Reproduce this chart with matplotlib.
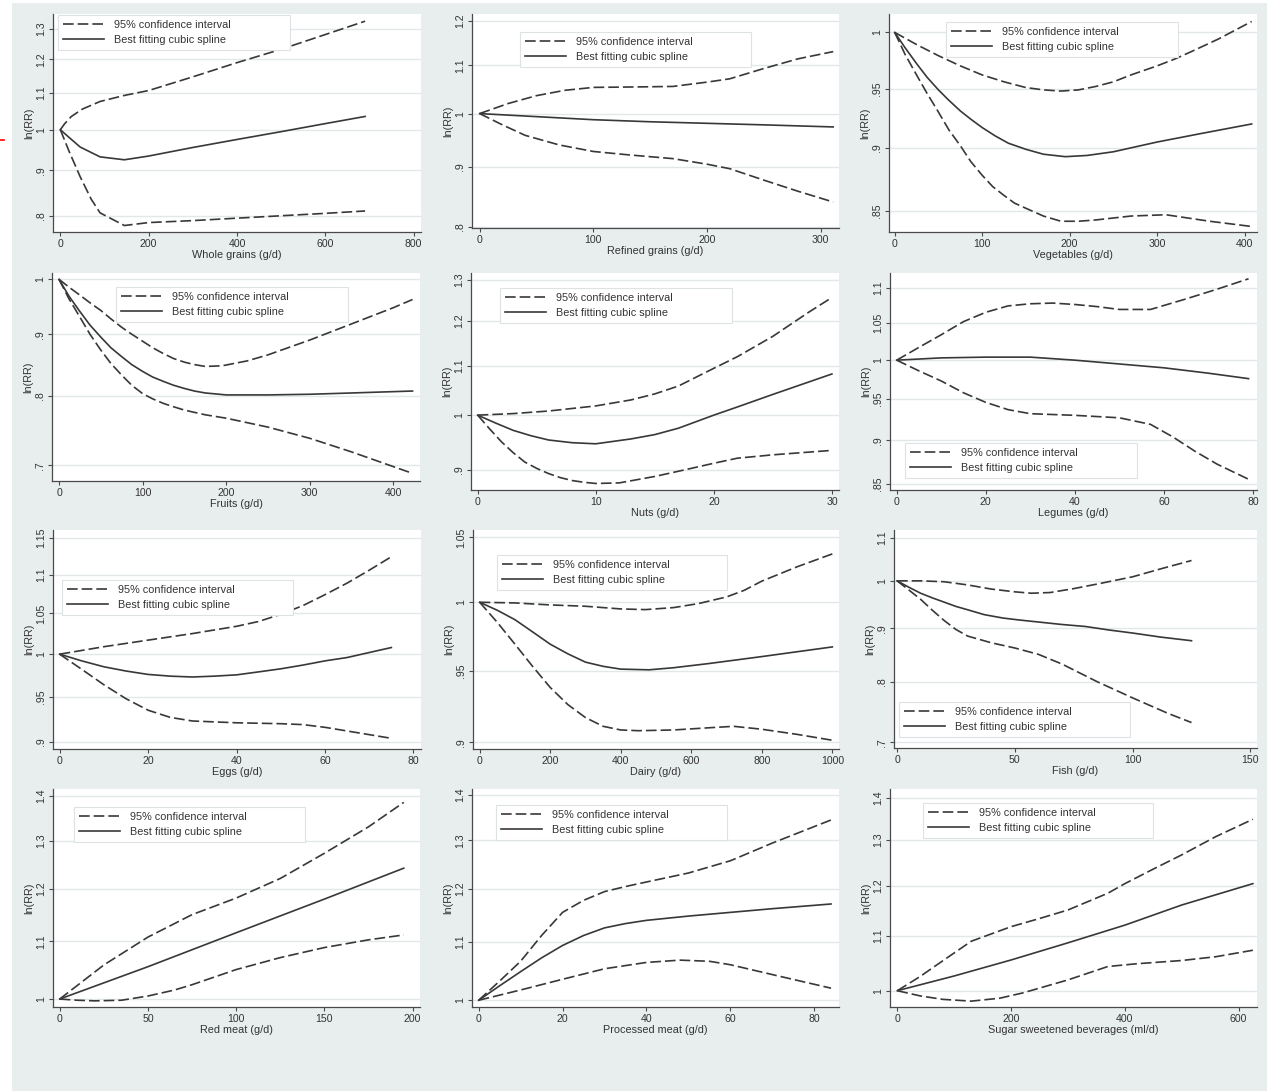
import numpy as np
import matplotlib.pyplot as plt
from matplotlib.patches import Rectangle
from matplotlib.lines import Line2D
from matplotlib.ticker import FixedLocator, FuncFormatter, NullLocator

plt.rcParams['font.family'] = ['Liberation Sans', 'DejaVu Sans']

# ---- data: [x values], [RR values] ----
wg_hi = [[0, 10, 25, 50, 90, 145, 200, 300, 400, 500, 600, 690],
         [1.0, 1.016, 1.035, 1.055, 1.076, 1.093, 1.107, 1.147, 1.19, 1.232, 1.28, 1.325]]
wg_fit = [[0, 20, 45, 90, 145, 200, 300, 400, 500, 600, 690],
          [1.0, 0.98, 0.956, 0.932, 0.925, 0.934, 0.955, 0.975, 0.995, 1.016, 1.035]]
wg_lo = [[0, 20, 45, 70, 90, 145, 200, 300, 400, 500, 600, 690],
         [1.0, 0.945, 0.885, 0.835, 0.806, 0.78, 0.786, 0.79, 0.795, 0.80, 0.805, 0.81]]

rg_hi = [[0, 25, 50, 75, 100, 140, 170, 200, 220, 250, 280, 311],
         [1.0, 1.02, 1.036, 1.047, 1.053, 1.054, 1.055, 1.064, 1.071, 1.093, 1.114, 1.13]]
rg_fit = [[0, 50, 100, 150, 200, 250, 311],
          [1.0, 0.994, 0.988, 0.984, 0.981, 0.978, 0.974]]
rg_lo = [[0, 20, 40, 70, 100, 130, 170, 200, 220, 250, 280, 311],
         [1.0, 0.978, 0.958, 0.94, 0.928, 0.922, 0.915, 0.905, 0.897, 0.877, 0.858, 0.84]]

veg_hi = [[0, 25, 50, 75, 100, 125, 150, 170, 190, 210, 230, 250, 270, 300, 320, 340, 370, 408],
          [1.0, 0.989, 0.979, 0.970, 0.962, 0.956, 0.951, 0.949, 0.948, 0.949, 0.952, 0.956,
           0.962, 0.970, 0.976, 0.983, 0.994, 1.010]]
veg_fit = [[0, 12, 25, 37, 50, 62, 75, 87, 100, 115, 130, 150, 170, 195, 220, 250, 300, 350, 408],
           [1.0, 0.986, 0.972, 0.96, 0.949, 0.94, 0.931, 0.924, 0.917, 0.910, 0.904, 0.899,
            0.895, 0.893, 0.894, 0.897, 0.905, 0.912, 0.92]]
veg_lo = [[0, 12, 25, 37, 50, 62, 75, 87, 100, 112, 125, 137, 150, 170, 190, 210, 230, 270, 310, 360, 408],
          [1.0, 0.98, 0.962, 0.946, 0.93, 0.915, 0.902, 0.889, 0.878, 0.869, 0.862, 0.856,
           0.852, 0.846, 0.842, 0.842, 0.843, 0.846, 0.847, 0.842, 0.838]]

fr_hi = [[0, 12, 25, 37, 50, 62, 75, 87, 100, 112, 125, 137, 150, 162, 175, 195, 225, 250, 300, 350, 400, 423],
         [1.0, 0.985, 0.97, 0.956, 0.942, 0.927, 0.912, 0.900, 0.888, 0.877, 0.867, 0.859,
          0.853, 0.849, 0.846, 0.847, 0.855, 0.865, 0.89, 0.918, 0.947, 0.962]]
fr_fit = [[0, 12, 25, 37, 50, 62, 75, 87, 100, 112, 125, 137, 150, 162, 175, 200, 250, 300, 350, 423],
          [1.0, 0.968, 0.94, 0.916, 0.895, 0.877, 0.862, 0.849, 0.838, 0.829, 0.822, 0.816,
           0.811, 0.807, 0.804, 0.801, 0.801, 0.802, 0.804, 0.807]]
fr_lo = [[0, 12, 25, 37, 50, 62, 75, 87, 100, 112, 125, 137, 150, 175, 200, 250, 300, 350, 423],
         [1.0, 0.963, 0.93, 0.9, 0.873, 0.851, 0.832, 0.816, 0.803, 0.795, 0.788, 0.783,
          0.778, 0.771, 0.766, 0.753, 0.737, 0.718, 0.689]]

nut_hi = [[0, 3, 6, 10, 13, 15, 17, 20, 22, 25, 28, 30],
          [1.0, 1.003, 1.008, 1.018, 1.03, 1.042, 1.058, 1.095, 1.12, 1.165, 1.22, 1.256]]
nut_fit = [[0, 1.5, 3, 4.5, 6, 8, 10, 13, 15, 17, 20, 22, 25, 30],
           [1.0, 0.985, 0.971, 0.961, 0.953, 0.948, 0.946, 0.955, 0.963, 0.975, 1.0, 1.016, 1.041, 1.083]]
nut_lo = [[0, 1, 2, 3, 4, 5, 6, 7, 8, 9, 10, 12, 15, 17, 20, 22, 25, 30],
          [1.0, 0.974, 0.95, 0.93, 0.913, 0.902, 0.893, 0.886, 0.881, 0.878, 0.876, 0.877,
           0.888, 0.897, 0.911, 0.92, 0.926, 0.934]]

leg_hi = [[0, 5, 10, 15, 20, 25, 30, 35, 40, 45, 50, 57, 65, 72, 79],
          [1.0, 1.017, 1.034, 1.052, 1.065, 1.074, 1.077, 1.078, 1.076, 1.073, 1.069, 1.069, 1.084, 1.098, 1.113]]
leg_fit = [[0, 10, 20, 30, 40, 50, 60, 70, 79],
           [1.0, 1.003, 1.004, 1.004, 1.0, 0.995, 0.99, 0.983, 0.976]]
leg_lo = [[0, 5, 10, 15, 20, 25, 30, 40, 50, 57, 62, 67, 72, 79],
          [1.0, 0.986, 0.973, 0.958, 0.946, 0.937, 0.932, 0.93, 0.927, 0.919, 0.904, 0.887, 0.872, 0.855]]

egg_hi = [[0, 10, 20, 30, 40, 45, 50, 55, 60, 65, 70, 75],
          [1.0, 1.009, 1.017, 1.025, 1.034, 1.04, 1.049, 1.06, 1.074, 1.089, 1.106, 1.124]]
egg_fit = [[0, 5, 10, 15, 20, 25, 30, 35, 40, 45, 50, 55, 60, 65, 70, 75],
           [1.0, 0.992, 0.985, 0.98, 0.976, 0.974, 0.973, 0.974, 0.9755, 0.979, 0.9826, 0.987,
            0.992, 0.996, 1.002, 1.008]]
egg_lo = [[0, 5, 10, 15, 20, 25, 30, 40, 50, 55, 60, 65, 70, 75],
          [1.0, 0.982, 0.964, 0.948, 0.935, 0.927, 0.923, 0.921, 0.92, 0.919, 0.916, 0.912, 0.908, 0.904]]

dai_hi = [[0, 100, 200, 300, 400, 470, 550, 620, 700, 750, 800, 900, 1000],
          [1.0, 0.9995, 0.998, 0.997, 0.995, 0.9945, 0.996, 0.999, 1.004, 1.009, 1.016, 1.027, 1.037]]
dai_fit = [[0, 50, 100, 150, 200, 250, 300, 350, 400, 480, 550, 650, 800, 900, 1000],
           [1.0, 0.994, 0.987, 0.978, 0.969, 0.962, 0.956, 0.953, 0.951, 0.9505, 0.952, 0.955, 0.96, 0.9635, 0.967]]
dai_lo = [[0, 50, 100, 150, 200, 250, 300, 350, 400, 450, 550, 650, 720, 800, 900, 1000],
          [1.0, 0.985, 0.969, 0.953, 0.938, 0.926, 0.917, 0.911, 0.9085, 0.908, 0.9085, 0.910, 0.911, 0.909, 0.9055, 0.9015]]

fish_hi = [[0, 10, 20, 30, 40, 50, 57, 65, 75, 85, 100, 112, 125],
           [1.0, 1.0, 0.998, 0.991, 0.982, 0.976, 0.973, 0.9745, 0.983, 0.993, 1.009, 1.027, 1.046]]
fish_fit = [[0, 5, 10, 15, 20, 25, 30, 37, 45, 52, 60, 70, 80, 90, 100, 112, 125],
            [1.0, 0.986, 0.973, 0.963, 0.954, 0.945, 0.938, 0.928, 0.921, 0.917, 0.913, 0.908,
             0.904, 0.897, 0.891, 0.883, 0.876]]
fish_lo = [[0, 5, 10, 15, 20, 25, 30, 40, 50, 60, 70, 85, 100, 115, 125],
           [1.0, 0.98, 0.96, 0.937, 0.916, 0.898, 0.885, 0.872, 0.862, 0.85, 0.832, 0.80, 0.772, 0.746, 0.731]]

rm_hi = [[0, 25, 50, 75, 100, 125, 150, 175, 195],
         [1.0, 1.058, 1.108, 1.15, 1.182, 1.221, 1.273, 1.33, 1.385]]
rm_fit = [[0, 50, 100, 150, 195],
          [1.0, 1.055, 1.116, 1.18, 1.242]]
rm_lo = [[0, 10, 20, 35, 50, 65, 75, 100, 125, 150, 175, 195],
         [1.0, 0.998, 0.997, 0.998, 1.005, 1.015, 1.024, 1.05, 1.071, 1.089, 1.103, 1.112]]

pm_hi = [[0, 5, 10, 15, 20, 25, 30, 35, 40, 50, 60, 70, 84],
         [1.0, 1.032, 1.066, 1.112, 1.155, 1.178, 1.195, 1.205, 1.214, 1.232, 1.257, 1.294, 1.344]]
pm_fit = [[0, 5, 10, 15, 20, 25, 30, 35, 40, 50, 60, 70, 84],
          [1.0, 1.024, 1.048, 1.072, 1.094, 1.112, 1.126, 1.134, 1.14, 1.148, 1.155, 1.162, 1.171]]
pm_lo = [[0, 10, 20, 30, 40, 48, 55, 60, 70, 84],
         [1.0, 1.017, 1.035, 1.053, 1.064, 1.068, 1.066, 1.06, 1.043, 1.02]]

ssb_hi = [[0, 40, 75, 130, 200, 250, 300, 370, 400, 450, 500, 560, 625],
          [1.0, 1.025, 1.05, 1.09, 1.118, 1.134, 1.151, 1.185, 1.205, 1.236, 1.267, 1.308, 1.348]]
ssb_fit = [[0, 100, 200, 300, 400, 500, 625],
           [1.0, 1.026, 1.055, 1.087, 1.121, 1.161, 1.205]]
ssb_lo = [[0, 40, 80, 130, 180, 220, 300, 370, 420, 500, 560, 625],
          [1.0, 0.991, 0.985, 0.982, 0.987, 0.996, 1.019, 1.043, 1.048, 1.054, 1.061, 1.073]]

xlabels = ['Whole grains (g/d)', 'Refined grains (g/d)', 'Vegetables (g/d)',
           'Fruits (g/d)', 'Nuts (g/d)', 'Legumes (g/d)',
           'Eggs (g/d)', 'Dairy (g/d)', 'Fish (g/d)',
           'Red meat (g/d)', 'Processed meat (g/d)', 'Sugar sweetened beverages (ml/d)']

xticks = [[0, 200, 400, 600, 800], [0, 100, 200, 300], [0, 100, 200, 300, 400],
          [0, 100, 200, 300, 400], [0, 10, 20, 30], [0, 20, 40, 60, 80],
          [0, 20, 40, 60, 80], [0, 200, 400, 600, 800, 1000], [0, 50, 100, 150],
          [0, 50, 100, 150, 200], [0, 20, 40, 60, 80], [0, 200, 400, 600]]

yticks = [[.8, .9, 1, 1.1, 1.2, 1.3], [.8, .9, 1, 1.1, 1.2], [.85, .9, .95, 1],
          [.7, .8, .9, 1], [.9, 1, 1.1, 1.2, 1.3], [.85, .9, .95, 1, 1.05, 1.1],
          [.9, .95, 1, 1.05, 1.1, 1.15], [.9, .95, 1, 1.05], [.7, .8, .9, 1, 1.1],
          [1, 1.1, 1.2, 1.3, 1.4], [1, 1.1, 1.2, 1.3, 1.4], [1, 1.1, 1.2, 1.3, 1.4]]

curves = [(wg_hi, wg_fit, wg_lo), (rg_hi, rg_fit, rg_lo), (veg_hi, veg_fit, veg_lo),
          (fr_hi, fr_fit, fr_lo), (nut_hi, nut_fit, nut_lo), (leg_hi, leg_fit, leg_lo),
          (egg_hi, egg_fit, egg_lo), (dai_hi, dai_fit, dai_lo), (fish_hi, fish_fit, fish_lo),
          (rm_hi, rm_fit, rm_lo), (pm_hi, pm_fit, pm_lo), (ssb_hi, ssb_fit, ssb_lo)]

# ---- layout (pixels) ----
W, H = 1274, 1091
# axes rect: left, top, right, bottom
rects = [(53, 14, 421, 232), (472, 14, 839, 228), (889, 14, 1257, 232),
         (52, 273, 420, 481), (471, 273, 839, 490), (890, 273, 1257, 490),
         (53, 530, 421, 749), (473, 530, 839, 749), (894, 530, 1257, 748),
         (53, 789, 420, 1007), (472, 789, 839, 1007), (890, 789, 1257, 1007)]
xlims = [(-16.6, 816.6), (-6.75, 316.1), (-6.5, 414.1), (-8.4, 431.9),
         (-0.565, 30.6), (-1.5, 80.9), (-1.5, 81.7), (-18.9, 1018.9),
         (-1.3, 152.8), (-3.8, 204.2), (-1.59, 85.9), (-12.9, 632.3)]
ylims = [(0.767, 1.35), (0.798, 1.217), (0.8338, 1.0169), (0.679, 1.0122),
         (0.865, 1.317), (0.843, 1.1215), (0.8925, 1.1606), (0.8956, 1.0558),
         (0.691, 1.119), (0.9869, 1.416), (0.989, 1.414), (0.972, 1.421)]
# legend box: left, top, right
legs = [(58, 15, 290), (520, 32, 751), (946, 22, 1178),
        (116, 287, 348), (500, 288, 732), (905, 443, 1137),
        (62, 580, 293), (497, 555, 727), (899, 702, 1130),
        (74, 807, 305), (496, 805, 727), (923, 803, 1153)]

LINE = '#383838'
AXC = '#4a4a4a'
BG = '#e8edee'
GRID = '#e2e8e9'
LW = 1.2
DASH = (0, (6.4, 2.4))


def stata_fmt(v, pos=None):
    s = f'{v:g}'
    if s.startswith('0.'):
        s = s[1:]
    return s


fig = plt.figure(figsize=(W / 100, H / 100), dpi=100)
fig.patches.append(Rectangle((12 / W, 0), (1267 - 12) / W, 1 - 3 / H,
                             transform=fig.transFigure, facecolor=BG,
                             edgecolor='none', zorder=-10))
# small red marker at the left edge
fig.add_artist(Line2D([0, 4 / W], [1 - 140 / H, 1 - 140 / H], color='red', lw=1.2))

for i in range(12):
    l, t, r, b = rects[i]
    ax = fig.add_axes([l / W, 1 - b / H, (r - l) / W, (b - t) / H])
    ax.set_facecolor('white')
    hi, fit, lo = curves[i]

    ax.plot(hi[0], hi[1], color=LINE, lw=LW, ls=DASH)
    ax.plot(lo[0], lo[1], color=LINE, lw=LW, ls=DASH)
    ax.plot(fit[0], fit[1], color=LINE, lw=LW, ls='-')

    ax.set_yscale('log')
    ax.set_xlim(*xlims[i])
    ax.set_ylim(*ylims[i])
    ax.yaxis.set_major_locator(FixedLocator(yticks[i]))
    ax.yaxis.set_major_formatter(FuncFormatter(stata_fmt))
    ax.yaxis.set_minor_locator(NullLocator())
    ax.set_xticks(xticks[i])
    ax.xaxis.set_major_formatter(FuncFormatter(stata_fmt))

    ax.grid(True, axis='y', color=GRID, lw=1.0)
    ax.set_axisbelow(True)
    for s in ['top', 'right']:
        ax.spines[s].set_visible(False)
    for s in ['left', 'bottom']:
        ax.spines[s].set_color(AXC)
        ax.spines[s].set_linewidth(0.9)

    ax.tick_params(axis='both', direction='out', length=3, width=0.8,
                   color=AXC, labelcolor='#333333', labelsize=7.6, pad=2)
    for lab in ax.get_yticklabels():
        lab.set_rotation(90)
        lab.set_va('center')

    ax.set_xlabel(xlabels[i], fontsize=7.8, color='#333333', labelpad=0.5)
    ax.set_ylabel('ln(RR)', fontsize=7.8, color='#333333', labelpad=1)

    h_ci = Line2D([], [], color=LINE, lw=LW, ls=DASH)
    h_fit = Line2D([], [], color=LINE, lw=LW, ls='-')
    ll, lt, lr = legs[i]
    lg = ax.legend([h_ci, h_fit], ['95% confidence interval', 'Best fitting cubic spline'],
                   loc='upper left', mode='expand',
                   bbox_to_anchor=(ll / W, 1 - lt / H - 0.01, (lr - ll) / W, 0.01),
                   bbox_transform=fig.transFigure, borderaxespad=0,
                   fontsize=7.8, handlelength=3.8, handletextpad=0.9,
                   labelspacing=0.45, borderpad=0.45, fancybox=False,
                   framealpha=1, edgecolor='#dde3e4')
    lg.get_frame().set_linewidth(0.8)
    for txt in lg.get_texts():
        txt.set_color('#333333')

fig.savefig('out.png', dpi=100)
